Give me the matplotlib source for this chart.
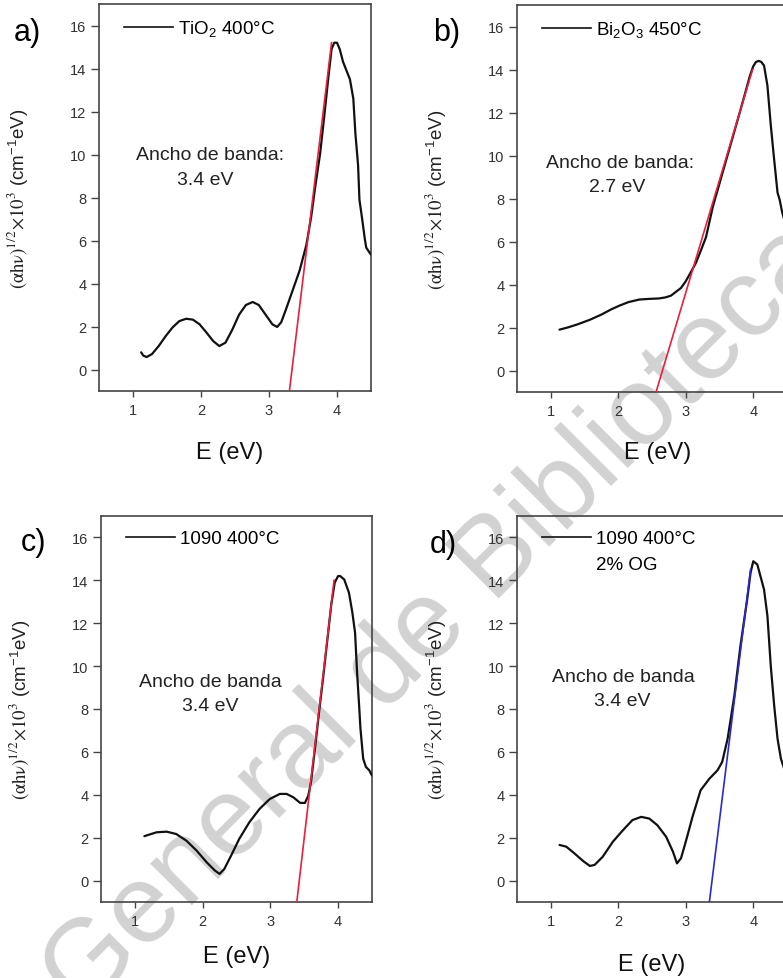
import numpy as np
import matplotlib.pyplot as plt
from matplotlib.lines import Line2D

# -------------------------------------------------------
# Tauc plots (αhν)^1/2 vs E for four films, 2x2 panels
# -------------------------------------------------------

plt.rcParams['font.family'] = ['Liberation Sans', 'DejaVu Sans']
plt.rcParams['mathtext.fontset'] = 'stix'
plt.rcParams['mathtext.default'] = 'regular'

# a) TiO2 400°C
e_a = [1.12, 1.15, 1.20, 1.28, 1.38, 1.48, 1.58, 1.68, 1.78, 1.88, 1.98, 2.08,
       2.18, 2.27, 2.36, 2.46, 2.56, 2.66, 2.76, 2.85, 2.95, 3.05, 3.12, 3.18,
       3.25, 3.35, 3.45, 3.55, 3.62, 3.68, 3.75, 3.81, 3.87, 3.92, 3.96, 4.00,
       4.04, 4.09, 4.14, 4.19, 4.24, 4.27, 4.31, 4.33, 4.37, 4.41, 4.43, 4.48, 4.50]
y_a = [0.80, 0.65, 0.58, 0.72, 1.10, 1.55, 1.95, 2.25, 2.36, 2.32, 2.10, 1.72,
       1.32, 1.09, 1.25, 1.85, 2.55, 3.00, 3.14, 3.00, 2.55, 2.10, 1.98, 2.20,
       2.80, 3.70, 4.60, 5.80, 7.10, 8.50, 10.0, 11.7, 13.5, 14.9, 15.2, 15.2,
       14.9, 14.3, 13.9, 13.5, 12.6, 11.0, 9.5, 7.9, 7.0, 6.05, 5.67, 5.43, 5.35]
fit_a_x = [3.30, 3.92]
fit_a_y = [-1.0, 15.2]

# b) Bi2O3 450°C
e_b = [1.13, 1.25, 1.40, 1.58, 1.75, 1.90, 2.02, 2.15, 2.31, 2.45, 2.60, 2.70,
       2.78, 2.83, 2.93, 3.00, 3.08, 3.15, 3.22, 3.30, 3.40, 3.50, 3.60, 3.70,
       3.80, 3.88, 3.95, 4.00, 4.04, 4.08, 4.12, 4.16, 4.21, 4.26, 4.31, 4.36,
       4.39, 4.43, 4.47, 4.50]
y_b = [1.90, 2.00, 2.15, 2.36, 2.60, 2.85, 3.02, 3.18, 3.30, 3.33, 3.35, 3.40,
       3.48, 3.60, 3.84, 4.15, 4.60, 5.00, 5.55, 6.20, 7.60, 8.70, 9.80, 10.9,
       12.0, 12.9, 13.7, 14.15, 14.35, 14.4, 14.35, 14.18, 13.25, 11.4, 9.8, 8.27,
       7.96, 7.34, 6.90, 6.60]
fit_b_x = [2.56, 3.99]
fit_b_y = [-1.0, 14.0]

# c) 1090 400°C
e_c = [1.14, 1.32, 1.47, 1.61, 1.76, 1.91, 2.06, 2.18, 2.25, 2.32, 2.42, 2.54,
       2.69, 2.84, 2.99, 3.14, 3.24, 3.34, 3.44, 3.51, 3.56, 3.60, 3.66, 3.72,
       3.78, 3.84, 3.90, 3.95, 4.00, 4.03, 4.09, 4.16, 4.21, 4.25, 4.28, 4.31,
       4.33, 4.37, 4.41, 4.46, 4.50]
y_c = [2.07, 2.25, 2.28, 2.17, 1.86, 1.40, 0.85, 0.47, 0.31, 0.54, 1.16, 1.94,
       2.72, 3.34, 3.80, 4.04, 4.04, 3.88, 3.62, 3.62, 3.96, 4.60, 6.20, 7.90,
       9.50, 11.2, 12.9, 13.9, 14.2, 14.2, 14.04, 13.42, 12.5, 11.56, 9.7, 8.15,
       7.07, 5.68, 5.30, 5.14, 4.90]
fit_c_x = [3.39, 3.94]
fit_c_y = [-1.0, 14.0]

# d) 1090 400°C 2% OG
e_d = [1.13, 1.23, 1.35, 1.48, 1.58, 1.65, 1.77, 1.92, 2.07, 2.21, 2.34, 2.46,
       2.58, 2.71, 2.81, 2.87, 2.93, 3.00, 3.10, 3.22, 3.35, 3.47, 3.54, 3.62,
       3.72, 3.81, 3.91, 3.96, 4.00, 4.06, 4.16, 4.21, 4.26, 4.31, 4.36, 4.41,
       4.46, 4.50]
y_d = [1.66, 1.58, 1.27, 0.91, 0.68, 0.73, 1.11, 1.81, 2.35, 2.82, 2.97, 2.89,
       2.58, 2.04, 1.35, 0.80, 1.04, 1.81, 2.97, 4.21, 4.75, 5.14, 5.53, 6.61,
       8.62, 10.94, 13.11, 14.35, 14.89, 14.74, 13.57, 12.34, 10.0, 8.16, 6.61, 5.68,
       5.20, 5.00]
fit_d_x = [3.35, 3.96]
fit_d_y = [-1.0, 14.5]

panel_tags = ['a)', 'b)', 'c)', 'd)']
legend_labels = [['TiO$_2$ 400°C'], ['Bi$_2$O$_3$ 450°C'], ['1090 400°C'], ['1090 400°C', '2% OG']]
band_texts = ['Ancho de banda:', 'Ancho de banda:', 'Ancho de banda', 'Ancho de banda']
gap_texts = ['3.4 eV', '2.7 eV', '3.4 eV', '3.4 eV']
fit_colors = ['#e8203c', '#e8203c', '#e8203c', '#2a2ad0']

ylabel = r'$\mathrm{(\alpha h\nu)^{1/2}\!\times\!10^{3}}$ (cm$^{-1}$eV)'

W, H = 783, 979
fig = plt.figure(figsize=(W / 100, H / 100), dpi=100)

# axes rectangles in pixels: left, top, width, height
boxes = [(99, 5, 272, 387), (517, 6, 270, 387), (101, 517, 271, 386), (517, 517, 270, 386)]
axes = [fig.add_axes([l / W, 1 - (t + h) / H, w / W, h / H]) for l, t, w, h in boxes]

series = [(e_a, y_a, fit_a_x, fit_a_y), (e_b, y_b, fit_b_x, fit_b_y),
          (e_c, y_c, fit_c_x, fit_c_y), (e_d, y_d, fit_d_x, fit_d_y)]
text_pos = [((2.13, 9.98), (2.06, 8.85)), ((2.02, 9.67), (1.98, 8.58)),
            ((2.11, 9.27), (2.11, 8.16)), ((2.07, 9.50), (2.06, 8.39))]
xlabel_pos = [(0.48, -0.158), (0.52, -0.155), (0.50, -0.14), (0.50, -0.16)]
tag_pos = [(27, 33), (447, 33), (33, 543), (443, 545)]

for i, ax in enumerate(axes):
    e, y, fx, fy = series[i]
    ax.set_facecolor('none')
    ax.plot(e, y, color='#111111', lw=1.6, solid_joinstyle='round',
            solid_capstyle='round', zorder=3)
    ax.plot(fx, fy, color=fit_colors[i], lw=1.2, zorder=4)

    ax.set_xlim(0.5, 4.5)
    ax.set_ylim(-1, 17)
    ax.set_xticks([1, 2, 3, 4])
    ax.set_yticks(np.arange(0, 17, 2))
    ax.tick_params(axis='y', direction='out', length=6, width=1, pad=3,
                   labelsize=10.5, colors='#444444', labelcolor='#333333')
    ax.tick_params(axis='x', direction='out', length=4, width=1, pad=5,
                   labelsize=10.5, colors='#444444', labelcolor='#333333')
    for s in ax.spines.values():
        s.set_color('#444444')
        s.set_linewidth(1.2)

    ax.set_ylabel(ylabel, fontsize=13.5, color='#222222')
    ax.yaxis.set_label_coords(-69 / boxes[i][2], 0.5)
    ax.set_xlabel('E (eV)', fontsize=17, color='#111111')
    ax.xaxis.label.set_va('center')
    ax.xaxis.set_label_coords(*xlabel_pos[i])

    (bx, by), (gx, gy) = text_pos[i]
    ax.text(bx, by, band_texts[i], ha='center', va='center', fontsize=14, color='#222222')
    ax.text(gx, gy, gap_texts[i], ha='center', va='center', fontsize=14, color='#222222')

    labels = legend_labels[i]
    handles = [Line2D([], [], color='#111111', lw=1.2)]
    handles += [Line2D([], [], color='none') for _ in labels[1:]]
    ax.legend(handles, labels, loc='upper left', bbox_to_anchor=(0.04, 1.0),
              frameon=False, fontsize=13.5, handlelength=2.6, handletextpad=0.3,
              borderpad=0.75, labelspacing=0.45, borderaxespad=0)

    tx, ty = tag_pos[i]
    fig.text(tx / W, 1 - ty / H, panel_tags[i], fontsize=22, ha='center', va='center')

# library watermark behind the panels (cut by the page edges as in the scan)
fig.text(0.559, 0.368, 'General de Biblioteca', rotation=45, rotation_mode='anchor',
         fontsize=80, color='#d2d2d2', ha='center', va='center', zorder=-1)

fig.savefig('out.png', dpi=100, facecolor='white')
